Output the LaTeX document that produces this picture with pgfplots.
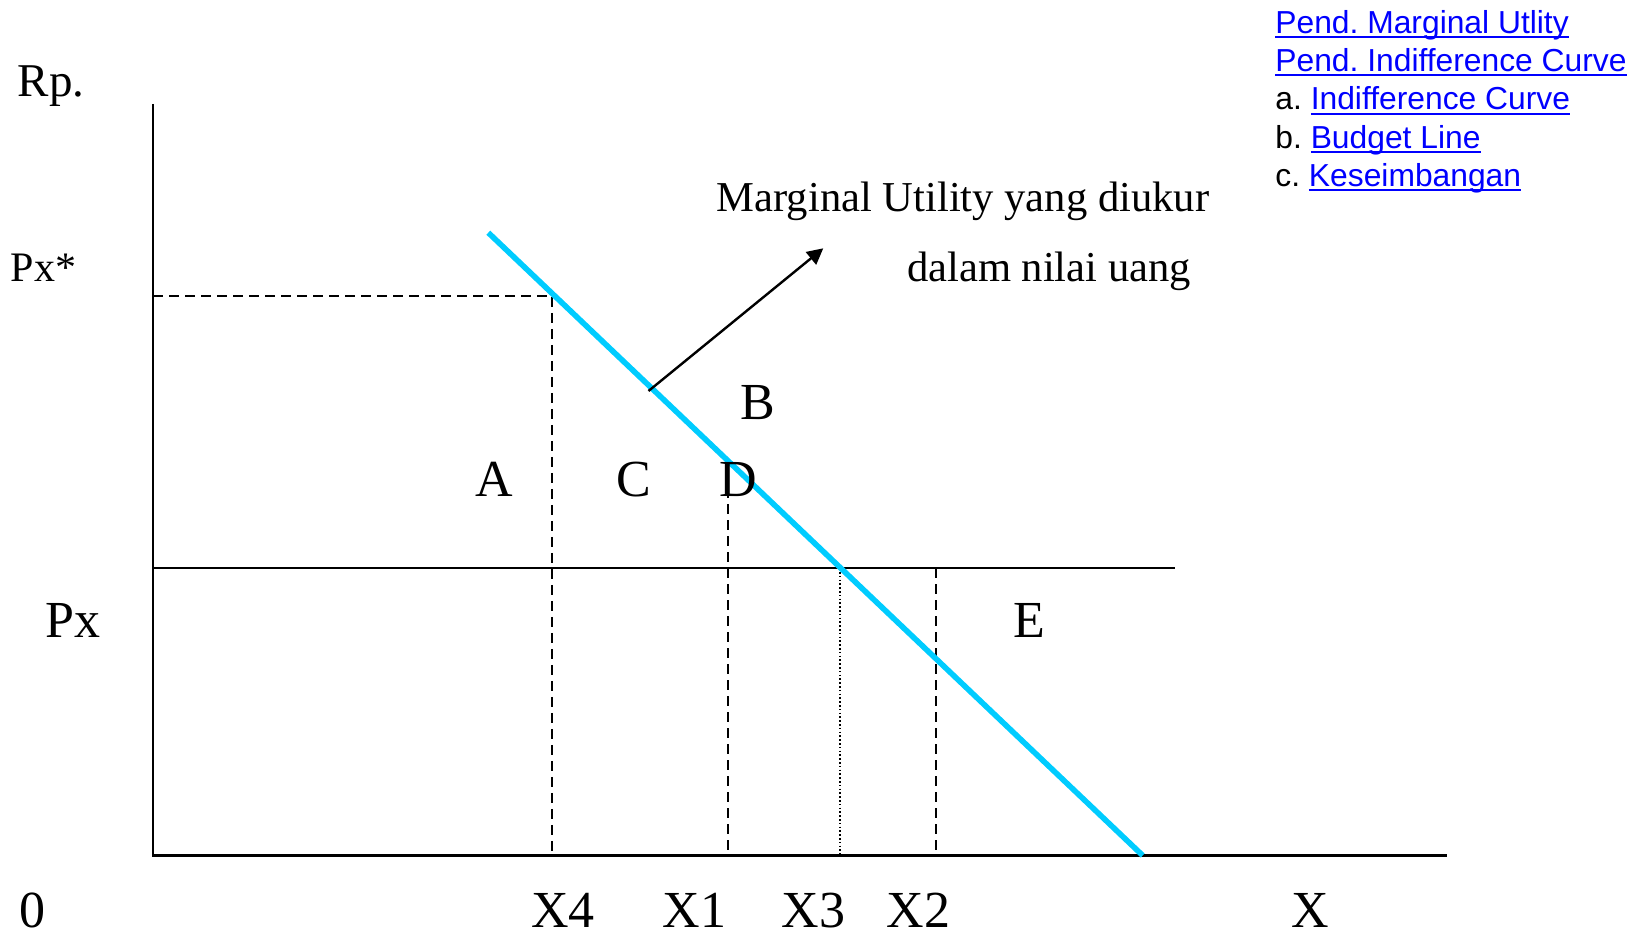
\documentclass[border=0pt]{standalone}
\usepackage{pgfplots}
\pgfplotsset{compat=1.18}
\usepackage{fontspec}
\setmainfont{Liberation Serif}
\newfontfamily\arial{Liberation Sans}
\usetikzlibrary{arrows.meta}
\definecolor{mublue}{RGB}{0,204,255}
\definecolor{linkblue}{RGB}{0,0,255}
\newsavebox\lnkbox
\newcommand\lnk[1]{\sbox\lnkbox{\color{linkblue}#1}\rlap{\color{linkblue}\rule[-2.4pt]{\wd\lnkbox}{1pt}}\usebox\lnkbox}
\newcommand\fs[1]{\fontsize{#1}{#1}\selectfont}
\frenchspacing
\begin{document}
\begin{tikzpicture}
\begin{axis}[x=0.5pt,y=0.5pt,xmin=-153,xmax=1497,ymin=-82.5,ymax=855.5,hide axis,clip=false]
\coordinate (bl) at (axis cs:-153,-82.5);
\coordinate (tr) at (axis cs:1497,855.5);
% axes
\addplot[black,line width=1.3pt] coordinates {(0,751.5) (0,0) (1294,0)};
% price line Px
\addplot[black,line width=1.2pt] coordinates {(0,287.2) (1022,287.2)};
% dashed guides
\addplot[black,line width=1.1pt,dash pattern=on 5pt off 3pt] coordinates {(0,559.5) (399,559.5) (399,0)};
\addplot[black,line width=1.1pt,dash pattern=on 5pt off 3pt] coordinates {(575,367) (575,0)};
\addplot[black,line width=0.9pt,dash pattern=on 0.8pt off 1.1pt] coordinates {(687,287.2) (687,0)};
\addplot[black,line width=1.1pt,dash pattern=on 5pt off 3pt] coordinates {(783,287.2) (783,0)};
% marginal utility line
\addplot[mublue,line width=2.8pt] coordinates {(335.3,622.8) (989.7,0)};
% arrow
\addplot[black,line width=1.2pt,-{Triangle[length=8pt,width=8pt]}] coordinates {(495.5,464.5) (670.3,607.2)};
% labels
\node[anchor=base,inner sep=0,font=\fs{23.5}] at (axis cs:-102,758.5) {Rp.};
\node[anchor=base,inner sep=0,font=\fs{21}] at (axis cs:-109.5,573.8) {Px*};
\node[anchor=base,inner sep=0,font=\fs{26}] at (axis cs:-79.7,218.2) {Px};
\node[anchor=base,inner sep=0,font=\fs{26}] at (axis cs:-120.4,-72) {0};
\node[anchor=base,inner sep=0,font=\fs{26}] at (axis cs:410,-72) {X4};
\node[anchor=base,inner sep=0,font=\fs{26}] at (axis cs:541.5,-72) {X1};
\node[anchor=base,inner sep=0,font=\fs{26}] at (axis cs:660.5,-72) {X3};
\node[anchor=base,inner sep=0,font=\fs{26}] at (axis cs:765.6,-72) {X2};
\node[anchor=base,inner sep=0,font=\fs{26}] at (axis cs:1157,-72) {X};
\node[anchor=base,inner sep=0,font=\fs{26}] at (axis cs:341,358.5) {A};
\node[anchor=base,inner sep=0,font=\fs{26}] at (axis cs:481,358.5) {C};
\node[anchor=base,inner sep=0,font=\fs{26}] at (axis cs:585,358.5) {D};
\node[anchor=base,inner sep=0,font=\fs{26}] at (axis cs:605,435.5) {B};
\node[anchor=base,inner sep=0,font=\fs{26}] at (axis cs:876.5,218.2) {E};
\node[anchor=base,inner sep=0,font=\fs{21.3}] at (axis cs:810,643.5) {Marginal Utility yang diukur};
\node[anchor=base,inner sep=0,font=\fs{21.3}] at (axis cs:896,573.5) {dalam nilai uang};
% links
\node[anchor=base west,inner sep=0,font=\arial\fs{15.9}] at (axis cs:1122,822.2) {\lnk{Pend. Marginal Utlity}};
\node[anchor=base west,inner sep=0,font=\arial\fs{15.9}] at (axis cs:1122,783.8) {\lnk{Pend. Indifference Curve}};
\node[anchor=base west,inner sep=0,font=\arial\fs{15.9}] at (axis cs:1122,745.5) {a. \lnk{Indifference Curve}};
\node[anchor=base west,inner sep=0,font=\arial\fs{15.9}] at (axis cs:1122,707.2) {b. \lnk{Budget Line}};
\node[anchor=base west,inner sep=0,font=\arial\fs{15.9}] at (axis cs:1122,668.8) {c. \lnk{Keseimbangan}};
\end{axis}
\pgfresetboundingbox
\useasboundingbox (bl) rectangle (tr);
\end{tikzpicture}
\end{document}
